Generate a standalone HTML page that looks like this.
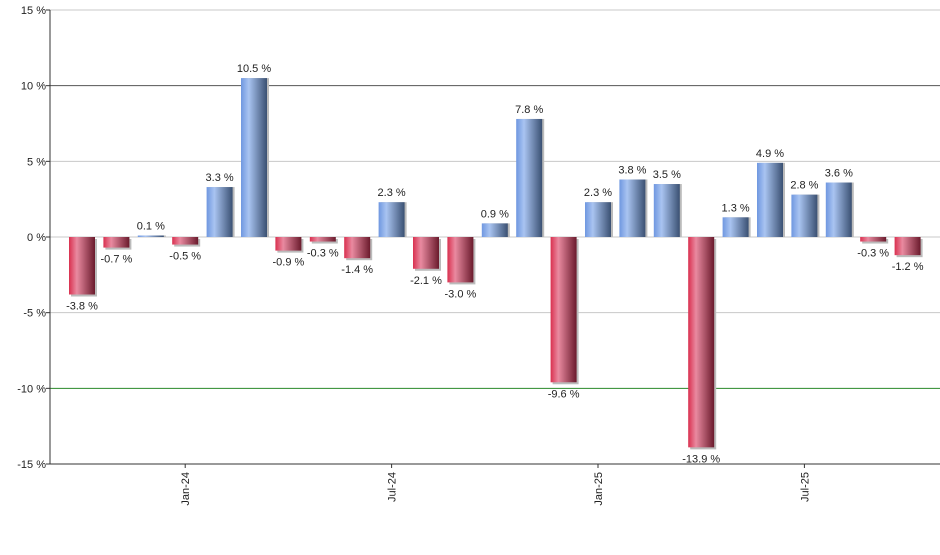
<!DOCTYPE html>
<html><head><meta charset="utf-8"><style>
body{margin:0;background:#fff;font-family:"Liberation Sans",sans-serif}
svg text{font-family:"Liberation Sans",sans-serif;font-size:11px;fill:#222}
</style></head><body>
<svg id="c" width="940" height="550">
<defs>
<linearGradient id="gb" x1="0" x2="1" y1="0" y2="0"><stop offset="0" stop-color="#6f97e0"/><stop offset="0.3" stop-color="#a9c4f1"/><stop offset="1" stop-color="#3a5072"/></linearGradient>
<linearGradient id="gr" x1="0" x2="1" y1="0" y2="0"><stop offset="0" stop-color="#d9304f"/><stop offset="0.3" stop-color="#e98aa0"/><stop offset="1" stop-color="#6a1a2c"/></linearGradient>
</defs>
</svg>
<script>
const months=["Oct-23","Nov-23","Dec-23","Jan-24","Feb-24","Mar-24","Apr-24","May-24","Jun-24","Jul-24","Aug-24","Sep-24","Oct-24","Nov-24","Dec-24","Jan-25","Feb-25","Mar-25","Apr-25","May-25","Jun-25","Jul-25","Aug-25","Sep-25","Oct-25"];
const values=[-3.8,-0.7,0.1,-0.5,3.3,10.5,-0.9,-0.3,-1.4,2.3,-2.1,-3.0,0.9,7.8,-9.6,2.3,3.8,3.5,-13.9,1.3,4.9,2.8,3.6,-0.3,-1.2];
const yTicks=[15,10,5,0,-5,-10,-15];
const xTickLabels=["Jan-24","Jul-24","Jan-25","Jul-25"];
const svg=document.getElementById('c'),NS="http://www.w3.org/2000/svg";
const x0=50,x1=940,yTop=10,yBot=464;
const y=v=>yTop+(15-v)*(yBot-yTop)/30;
const step=34.4,x=i=>82+i*step;
function mk(t,a){const e=document.createElementNS(NS,t);for(const k in a)e.setAttribute(k,a[k]);svg.appendChild(e);return e;}
yTicks.forEach(t=>{
 const col=t===10?"#555":t===-10?"#2a8a2a":"#c8c8c8";
 const l=mk("line",{x1:x0,x2:x1,y1:y(t),y2:y(t),stroke:col,"stroke-width":1});
 
 
 const tx=mk("text",{x:46,y:y(t)+4,"text-anchor":"end"});tx.textContent=t+" %";
 
 
 mk("line",{x1:x0-4,x2:x0,y1:y(t),y2:y(t),stroke:"#333"});
});
const ax=mk("line",{x1:x0,x2:x0,y1:yTop,y2:yBot,stroke:"#333"});


const bx=mk("line",{x1:x0,x2:x1,y1:yBot,y2:yBot,stroke:"#333"});


values.forEach((v,i)=>{
 const top=Math.min(y(v),y(0)),h=Math.max(Math.abs(y(v)-y(0)),1),bw=26;
 mk("rect",{x:x(i)-bw/2+2,y:top+(v<0?2:0),width:bw,height:h,fill:"#bbb"});
 const r=mk("rect",{x:x(i)-bw/2,y:top,width:bw,height:h,fill:v>=0?"url(#gb)":"url(#gr)"});
 
 
 const t=mk("text",{x:x(i),y:v>=0?y(v)-6:y(v)+15,"text-anchor":"middle"});
 t.textContent=v.toFixed(1)+" %";
 
 
});
xTickLabels.forEach(lb=>{
 const i=months.indexOf(lb);
 mk("line",{x1:x(i),x2:x(i),y1:yBot,y2:yBot+4,stroke:"#333"});
 const t=mk("text",{x:0,y:0,"text-anchor":"end",transform:`translate(${x(i)+4},${yBot+8}) rotate(-90)`});
 t.textContent=lb;
 
 
});
</script>
</body></html>
